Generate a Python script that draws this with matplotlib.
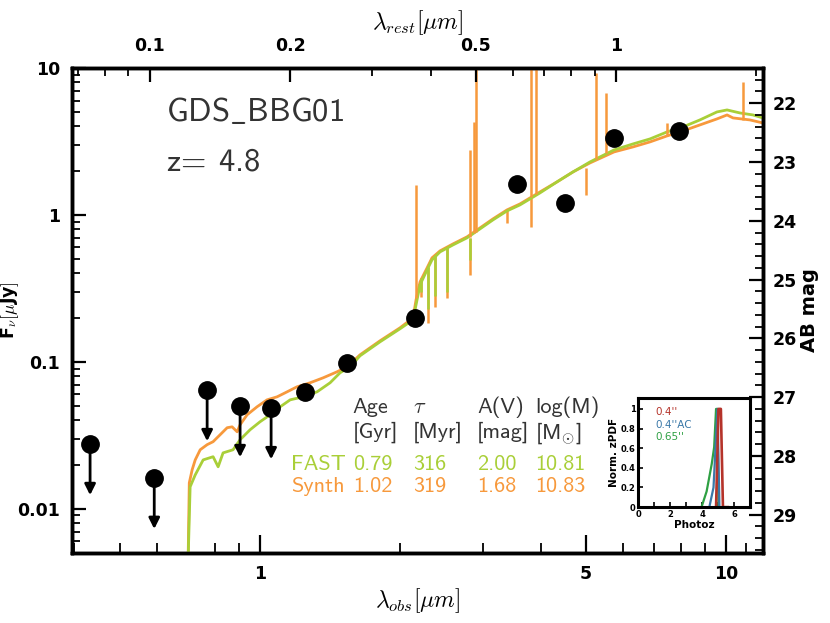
import numpy as np
import matplotlib
matplotlib.use("Agg")
import matplotlib.pyplot as plt
from matplotlib.ticker import FixedLocator, FixedFormatter, NullFormatter, MultipleLocator

plt.rcParams['mathtext.fontset'] = 'cm'
plt.rcParams['font.family'] = ['DejaVu Sans']

# ---------------- data ----------------
redshift = 4.8

# Synth (orange) model continuum
synth_wl = [0.701, 0.705, 0.715, 0.726, 0.744, 0.770, 0.793, 0.821, 0.850, 0.871,
            0.893, 0.906, 0.938, 0.985, 1.035, 1.088, 1.143, 1.200, 1.280, 1.365,
            1.462, 1.537, 1.638, 1.808, 1.995, 2.128, 2.160, 2.203, 2.281, 2.337,
            2.432, 2.593, 2.778, 2.962, 3.158, 3.385, 3.609, 3.983, 4.332, 4.688,
            5.099, 5.741, 6.304, 6.855, 7.456, 8.066, 8.773, 9.542, 10.03, 10.33,
            11.23, 11.97]
synth_flux = [0.0045, 0.0150, 0.0184, 0.0215, 0.0252, 0.0273, 0.0286, 0.0319, 0.0356, 0.0361,
              0.0334, 0.0373, 0.0436, 0.0494, 0.0551, 0.0578, 0.0625, 0.0676, 0.0720, 0.0778,
              0.0855, 0.0925, 0.1116, 0.1390, 0.1703, 0.1992, 0.2641, 0.3500, 0.4359, 0.5100,
              0.5691, 0.6349, 0.7087, 0.8157, 0.9393, 1.0815, 1.1879, 1.4334, 1.6773, 1.9608,
              2.2583, 2.6827, 2.9013, 3.1378, 3.4465, 3.7276, 4.0958, 4.4998, 4.7891, 4.5709,
              4.4297, 4.2240]

# FAST (green) model continuum
fast_wl = [0.701, 0.708, 0.726, 0.755, 0.793, 0.813, 0.833, 0.875, 0.906, 0.952,
           1.000, 1.051, 1.104, 1.160, 1.237, 1.325, 1.413, 1.484, 1.560, 1.638,
           1.808, 1.995, 2.128, 2.160, 2.203, 2.281, 2.337, 2.432, 2.593, 2.778,
           2.962, 3.158, 3.385, 3.609, 3.983, 4.332, 4.688, 5.099, 5.741, 6.304,
           6.855, 7.456, 8.066, 8.773, 9.542, 10.03, 10.69, 11.40, 11.97]
fast_flux = [0.0045, 0.0141, 0.0170, 0.0215, 0.0226, 0.0193, 0.0240, 0.0252, 0.0295, 0.0345,
             0.0391, 0.0436, 0.0494, 0.0551, 0.0578, 0.0625, 0.0720, 0.0842, 0.0925, 0.1099,
             0.1368, 0.1677, 0.1931, 0.2443, 0.3341, 0.4225, 0.4942, 0.5602, 0.6250, 0.6977,
             0.8029, 0.9247, 1.0646, 1.1696, 1.4113, 1.6773, 1.9608, 2.2941, 2.7682, 3.0409,
             3.2885, 3.6688, 3.9682, 4.4297, 5.0197, 5.1805, 4.9414, 4.7891, 4.5709]

# Synth emission lines: wavelength, continuum, peak
emis_wl = [2.160, 2.815, 2.875, 2.900, 3.81, 3.90, 5.26, 5.53, 7.44, 10.87]
emis_base = [0.27, 0.71, 0.75, 0.76, 1.32, 1.38, 2.40, 2.62, 3.42, 4.45]
emis_peak = [1.60, 2.77, 4.30, 30.0, 30.0, 30.0, 9.2, 6.76, 4.23, 8.05]

# absorption features (both models): wavelength, continuum, trough
abs_wl = [2.217, 2.292, 2.372, 2.517, 2.815]
abs_base = [0.37, 0.44, 0.53, 0.60, 0.70]
abs_synth_trough = [0.277, 0.184, 0.237, 0.270, 0.39]
abs_fast_trough = [0.300, 0.230, 0.280, 0.300, 0.49]
synth_dip_wl = [3.39, 3.81, 5.00]
synth_dip_base = [1.08, 1.30, 2.10]
synth_dip_trough = [0.88, 0.83, 1.37]

# photometry: detections and upper limits
det_wl = [1.249, 1.537, 2.15, 3.56, 4.50, 5.74, 7.91]
det_flux = [0.0625, 0.0985, 0.200, 1.62, 1.21, 3.34, 3.73]
lim_wl = [0.432, 0.593, 0.770, 0.906, 1.056]
lim_flux = [0.0277, 0.0163, 0.0645, 0.0502, 0.0486]

# table
table_cols = ["Age", r"$\tau$", "A(V)", "log(M)"]
table_units = ["[Gyr]", "[Myr]", "[mag]", r"[M$_{\odot}$]"]
fast_vals = ["0.79", "316", "2.00", "10.81"]
synth_vals = ["1.02", "319", "1.68", "10.83"]
object_name = r"GDS$\_$BBG01"
object_z = r"z=$\;\,$4.8"

# inset photo-z PDFs
pdf_green_z = [3.95, 4.27, 4.59, 4.74, 4.86, 4.95, 5.01]
pdf_green_p = [0.0, 0.16, 0.44, 0.61, 1.0, 1.0, 0.0]
pdf_blue_z = [4.44, 4.70, 4.95, 5.07]
pdf_blue_p = [0.0, 0.20, 1.0, 0.0]
pdf_red_z = [4.86, 5.01, 5.16, 5.29, 5.60]
pdf_red_p = [0.0, 1.0, 1.0, 0.0, 0.0]
pdf_labels = ["0.4''", "0.4''AC", "0.65''"]

xmin, xmax = 0.396, 11.98
ymin, ymax = 0.005, 10.0

C_FAST = '#a9cf38'
C_SYNTH = '#f7993c'
C_TXT = '#333333'
SANS = 'cmss10'

# ---------------- figure ----------------
fig = plt.figure(figsize=(8.3, 6.23), dpi=100)
ax = fig.add_axes([0.0873, 0.1124, 0.832, 0.7785])

LW = 2.0
ax.plot(synth_wl, synth_flux, color=C_SYNTH, lw=LW, zorder=2)
ax.vlines(abs_wl, abs_synth_trough, abs_base, color=C_SYNTH, lw=1.8, zorder=2)
ax.vlines(synth_dip_wl, synth_dip_trough, synth_dip_base, color=C_SYNTH, lw=1.8, zorder=2)
ax.plot(fast_wl, fast_flux, color=C_FAST, lw=LW, zorder=3)
ax.vlines(abs_wl, abs_fast_trough, abs_base, color=C_FAST, lw=1.8, zorder=3)
ax.vlines(emis_wl, emis_base, emis_peak, color=C_SYNTH, lw=1.8, zorder=4)

ax.plot(det_wl, det_flux, 'o', color='k', ms=12.5, zorder=6)
ax.plot(lim_wl, lim_flux, 'o', color='k', ms=12.5, zorder=6)
arrow_dex = 0.35
for w, f in zip(lim_wl, lim_flux):
    ax.annotate('', xy=(w, f * 10 ** (-arrow_dex)), xytext=(w, f),
                arrowprops=dict(arrowstyle='-|>', color='k', lw=2.0,
                                mutation_scale=16, shrinkA=0, shrinkB=0),
                zorder=6)

ax.set_xscale('log')
ax.set_yscale('log')
ax.set_xlim(xmin, xmax)
ax.set_ylim(ymin, ymax)

tickfont = dict(family=['DejaVu Sans'], weight='bold', size=12.5)

ax.xaxis.set_major_locator(FixedLocator([1, 5, 10]))
ax.xaxis.set_major_formatter(FixedFormatter(['1', '5', '10']))
ax.xaxis.set_minor_locator(FixedLocator([0.4, 0.5, 0.6, 0.7, 0.8, 0.9, 2, 3, 4, 6, 7, 8, 9, 11]))
ax.xaxis.set_minor_formatter(NullFormatter())
ax.yaxis.set_major_locator(FixedLocator([0.01, 0.1, 1, 10]))
ax.yaxis.set_major_formatter(FixedFormatter(['0.01', '0.1', '1', '10']))
ax.yaxis.set_minor_locator(FixedLocator(
    [0.006, 0.007, 0.008, 0.009, 0.02, 0.03, 0.04, 0.05, 0.06, 0.07, 0.08, 0.09,
     0.2, 0.3, 0.4, 0.5, 0.6, 0.7, 0.8, 0.9, 2, 3, 4, 5, 6, 7, 8, 9]))
ax.yaxis.set_minor_formatter(NullFormatter())
ax.tick_params(which='major', direction='in', length=10, width=1.6, pad=9)
ax.tick_params(which='minor', direction='in', length=5.5, width=1.3)
ax.tick_params(axis='x', which='major', length=13)
ax.tick_params(axis='x', which='minor', length=7.5)
for lab in ax.get_xticklabels() + ax.get_yticklabels():
    lab.set_fontproperties(tickfont)
for s in ax.spines.values():
    s.set_linewidth(2.4)

ax.set_xlabel(r'$\lambda_{obs}[\mu m]$', fontsize=17, labelpad=2)
ax.set_ylabel(r'F$_\nu[\mu$Jy$]$', fontsize=12.5, fontweight='bold')
ax.yaxis.set_label_coords(-0.074, 0.5)

# top axis: rest-frame wavelength
axt = ax.twiny()
axt.set_xscale('log')
axt.set_xlim(xmin / (1 + redshift), xmax / (1 + redshift))
axt.xaxis.set_major_locator(FixedLocator([0.1, 0.2, 0.5, 1]))
axt.xaxis.set_major_formatter(FixedFormatter(['0.1', '0.2', '0.5', '1']))
axt.xaxis.set_minor_locator(FixedLocator([0.07, 0.08, 0.09, 0.3, 0.4, 0.6, 0.7, 0.8, 0.9, 2]))
axt.xaxis.set_minor_formatter(NullFormatter())
axt.tick_params(which='major', direction='in', length=10, width=1.6, pad=9)
axt.tick_params(which='minor', direction='in', length=5.5, width=1.3)
for lab in axt.get_xticklabels():
    lab.set_fontproperties(tickfont)
axt.set_xlabel(r'$\lambda_{rest}[\mu m]$', fontsize=17, labelpad=6)
for s in axt.spines.values():
    s.set_linewidth(2.4)

# right axis: AB magnitude
axr = ax.twinx()
axr.set_ylim(23.9 - 2.5 * np.log10(ymin), 23.9 - 2.5 * np.log10(ymax))
axr.yaxis.set_major_locator(MultipleLocator(1))
axr.yaxis.set_minor_locator(MultipleLocator(0.2))
axr.tick_params(which='major', direction='in', length=10, width=1.6, pad=7)
axr.tick_params(which='minor', direction='in', length=5.5, width=1.3)
for lab in axr.get_yticklabels():
    lab.set_fontproperties(tickfont)
axr.set_ylabel('AB mag', fontsize=14, fontweight='bold', labelpad=2)
for s in axr.spines.values():
    s.set_linewidth(2.4)

# annotations
ax.text(0.135, 0.891, object_name, transform=ax.transAxes, family=SANS,
        fontsize=23.5, color=C_TXT, va='baseline', ha='left')
ax.text(0.135, 0.788, object_z, transform=ax.transAxes, family=SANS,
        fontsize=23.5, color=C_TXT, va='baseline', ha='left')

TS = 16
col_x = [0.406, 0.493, 0.586, 0.670]
for cx, c, u, fv, sv in zip(col_x, table_cols, table_units, fast_vals, synth_vals):
    ax.text(cx, 0.289, c, transform=ax.transAxes, family=SANS, fontsize=TS,
            color=C_TXT, va='baseline')
    ax.text(cx, 0.237, u, transform=ax.transAxes, family=SANS, fontsize=TS,
            color=C_TXT, va='baseline')
    ax.text(cx, 0.171, fv, transform=ax.transAxes, family=SANS, fontsize=TS,
            color=C_FAST, va='baseline')
    ax.text(cx, 0.126, sv, transform=ax.transAxes, family=SANS, fontsize=TS,
            color=C_SYNTH, va='baseline')
ax.text(0.316, 0.171, 'FAST', transform=ax.transAxes, family=SANS, fontsize=TS,
        color=C_FAST, va='baseline')
ax.text(0.316, 0.126, 'Synth', transform=ax.transAxes, family=SANS, fontsize=TS,
        color=C_SYNTH, va='baseline')

# inset
axi = fig.add_axes([0.769, 0.186, 0.135, 0.175])
axi.plot(pdf_green_z, pdf_green_p, color='#2ea043', lw=1.6)
axi.plot(pdf_blue_z, pdf_blue_p, color='#3a78a8', lw=1.6)
axi.plot(pdf_red_z, pdf_red_p, color='#b5332a', lw=1.9)
axi.set_xlim(0, 7)
axi.set_ylim(0, 1.11)
axi.xaxis.set_major_locator(FixedLocator([0, 2, 4, 6]))
axi.xaxis.set_minor_locator(FixedLocator([1, 3, 5]))
axi.yaxis.set_major_locator(FixedLocator([0, 0.2, 0.4, 0.6, 0.8, 1]))
axi.yaxis.set_major_formatter(FixedFormatter(['0', '0.2', '0.4', '0.6', '0.8', '1']))
axi.tick_params(which='both', direction='in', length=3.5, width=1.2, labelsize=6, pad=2)
for lab in axi.get_xticklabels() + axi.get_yticklabels():
    lab.set_fontweight('bold')
for s in axi.spines.values():
    s.set_linewidth(2.2)
axi.set_xlabel('Photoz', fontsize=7.5, fontweight='bold', labelpad=1)
axi.set_ylabel('Norm. zPDF', fontsize=7.5, fontweight='bold', labelpad=1)
for i, (lbl, col) in enumerate(zip(pdf_labels, ['#b5332a', '#3a78a8', '#2ea043'])):
    axi.text(0.15, 0.87 - i * 0.115, lbl, transform=axi.transAxes, fontsize=7.5,
             color=col, va='center')

fig.savefig('out.png', dpi=100)
